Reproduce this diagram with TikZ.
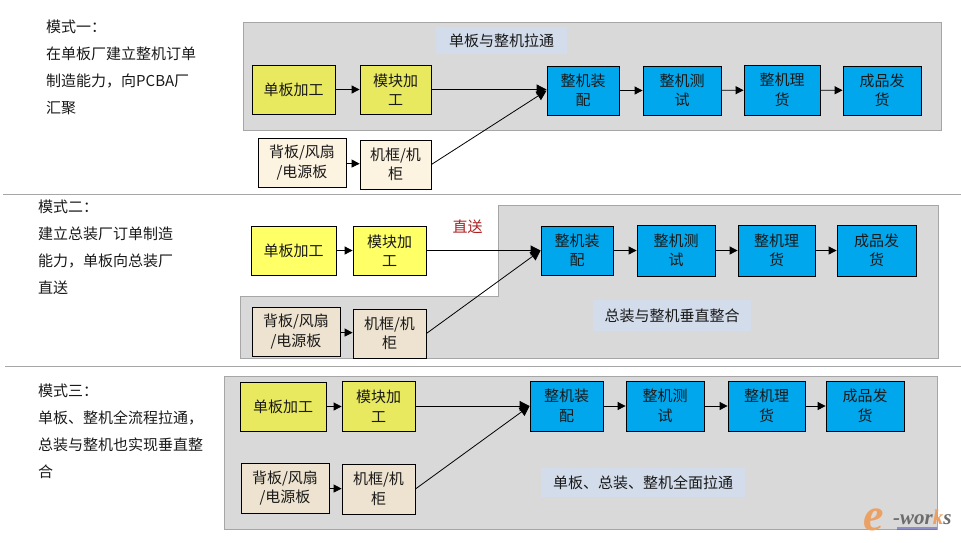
\documentclass[tikz,border=0pt]{standalone}
\usepackage{fontspec}
\setmainfont{Noto Sans CJK SC}
\newfontfamily\wmfont{Liberation Serif}
\usetikzlibrary{arrows.meta}
\definecolor{panelgray}{HTML}{D9D9D9}
\definecolor{panelline}{HTML}{A6A6A6}
\definecolor{tagblue}{HTML}{D3DCEA}
\definecolor{yellowA}{HTML}{E9E95F}
\definecolor{yellowB}{HTML}{FFFF66}
\definecolor{creamA}{HTML}{FDF3E1}
\definecolor{creamB}{HTML}{EEE3D0}
\definecolor{blueB}{HTML}{00A7EC}
\definecolor{wmorange}{HTML}{EBA064}
\tikzset{
  box/.style={draw=black,line width=0.8pt,align=center,inner sep=0pt,font=\fontsize{15}{19.5}\selectfont,text=black!90},
  yel/.style={box,fill=yellowA},
  yelb/.style={box,fill=yellowB},
  crm/.style={box,fill=creamA},
  crmb/.style={box,fill=creamB},
  blu/.style={box,fill=blueB},
  panel/.style={fill=panelgray,draw=panelline,line width=0.8pt},
  tag/.style={fill=tagblue,inner sep=0pt,font=\fontsize{15}{19.5}\selectfont,text=black!90},
  note/.style={anchor=north west,align=left,inner sep=0pt,font=\fontsize{15}{27}\selectfont,text=black!90},
  link/.style={draw=black,line width=0.8pt,-{Triangle[length=8pt,width=8pt]}},
  longlink/.style={draw=black,line width=0.8pt,-{Triangle[length=10pt,width=10pt]}},
  sep/.style={draw=panelline,line width=0.9pt}
}
\newcommand{\bx}[7]{\node[#2,minimum width=#5-#3,minimum height=#6-#4] (#1) at ({(#3+#5)/2},{(#4+#6)/2}) {#7};}
\begin{document}
\begin{tikzpicture}[x=1pt,y=-1pt]
\useasboundingbox (0,0) rectangle (961,542);
% panels
\path[panel] (243,22) rectangle (941,130);
\path[panel] (498,205) -- (938,205) -- (938,358) -- (240,358) -- (240,296) -- (498,296) -- cycle;
\path[panel] (224,376) rectangle (937,529);
% separators
\coordinate (s1a) at (3,194); \coordinate (s1b) at (961,194);
\coordinate (s2a) at (5,366); \coordinate (s2b) at (961,366);
\draw[sep] (s1a) -- (s1b);
\draw[sep] (s2a) -- (s2b);
% tags
\bx{t1}{tag}{436}{27}{567}{54}{单板与整机拉通}
\bx{t2}{tag}{593}{300}{751}{331}{总装与整机垂直整合}
\bx{t3}{tag}{541}{468}{745}{497}{单板、总装、整机全面拉通}
% notes
\node[note] (n1) at (46,19.5) {模式一：\\在单板厂建立整机订单\\制造能力，向PCBA厂\\汇聚};
\node[note] (n2) at (38,199.5) {模式二：\\建立总装厂订单制造\\能力，单板向总装厂\\直送};
\node[note] (n3) at (38,383.5) {模式三：\\单板、整机全流程拉通，\\总装与整机也实现垂直整\\合};
\node[inner sep=0pt,font=\fontsize{15}{19}\selectfont,text={rgb,255:red,170;green,30;blue,30}] (zs) at (467.5,227) {直送};
% mode 1
\bx{a1}{yel}{252}{65}{335}{114}{单板加工}
\bx{a2}{yel}{360}{65}{431}{114}{模块加\\工}
\bx{a3}{blu}{547}{66}{619}{115}{整机装\\配}
\bx{a4}{blu}{643}{66}{721}{115}{整机测\\试}
\bx{a5}{blu}{744}{65}{820}{115}{整机理\\货}
\bx{a6}{blu}{843}{66}{921}{115}{成品发\\货}
\bx{a7}{crm}{258}{138}{346}{187}{背板/风扇\\/电源板}
\bx{a8}{crm}{360}{140}{431}{189}{机框/机\\柜}
\draw[link] (a1.east) -- (a1.east -| a2.west);
\draw[longlink] (a2.east) -- (a2.east -| a3.west);
\draw[link] (a3) -- (a4);
\draw[link] (a4) -- (a5);
\draw[link] (a5) -- (a6);
\draw[link] (a7) -- (a8);
\draw[longlink] (a8.east) -- (a3.west);
% mode 2
\bx{b1}{yelb}{251}{226}{336}{275}{单板加工}
\bx{b2}{yelb}{353}{226}{426}{275}{模块加\\工}
\bx{b3}{blu}{541}{226}{613}{275}{整机装\\配}
\bx{b4}{blu}{637}{225}{715}{276}{整机测\\试}
\bx{b5}{blu}{738}{225}{815}{276}{整机理\\货}
\bx{b6}{blu}{837}{225}{916}{276}{成品发\\货}
\bx{b7}{crmb}{252}{307}{340}{356}{背板/风扇\\/电源板}
\bx{b8}{crmb}{353}{309}{426}{358}{机框/机\\柜}
\draw[link] (b1) -- (b2);
\draw[longlink] (b2.east) -- (b3.west);
\draw[link] (b3) -- (b4);
\draw[link] (b4) -- (b5);
\draw[link] (b5) -- (b6);
\draw[link] (b7) -- (b8);
\draw[longlink] (b8.east) -- (b3.west);
% mode 3
\bx{c1}{yel}{240}{382}{326}{431}{单板加工}
\bx{c2}{yel}{342}{381}{415}{431}{模块加\\工}
\bx{c3}{blu}{530}{381}{603}{431}{整机装\\配}
\bx{c4}{blu}{626}{381}{704}{431}{整机测\\试}
\bx{c5}{blu}{728}{381}{805}{431}{整机理\\货}
\bx{c6}{blu}{826}{381}{904}{431}{成品发\\货}
\bx{c7}{crmb}{241}{463}{329}{513}{背板/风扇\\/电源板}
\bx{c8}{crmb}{342}{464}{415}{514}{机框/机\\柜}
\draw[link] (c1.east) -- (c1.east -| c2.west);
\draw[longlink] (c2.east) -- (c2.east -| c3.west);
\draw[link] (c3) -- (c4);
\draw[link] (c4) -- (c5);
\draw[link] (c5) -- (c6);
\draw[link] (c7) -- (c8);
\draw[longlink] (c8.east) -- (c3.west);
% watermark
\fill[blue!45!gray,opacity=.5] (897,527) rectangle (937,530);
\node[inner sep=0pt,anchor=base west,font=\wmfont\bfseries\itshape\fontsize{46}{46}\selectfont,text=wmorange] (w1) at (863,530) {e};
\node[inner sep=0pt,anchor=base west,font=\wmfont\bfseries\itshape\fontsize{21}{21}\selectfont,text=gray!85!black] (w2) at (893,524) {-wor\textcolor{wmorange}{k}s};
\end{tikzpicture}
\end{document}
